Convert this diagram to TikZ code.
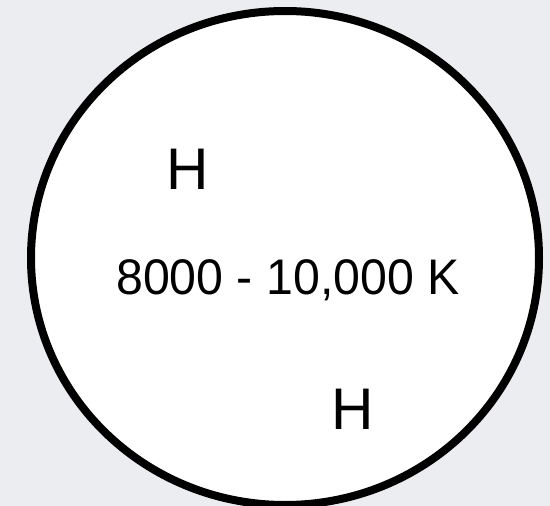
\documentclass[tikz,border=0pt]{standalone}
\usepackage{fontspec}
\setmainfont{Liberation Sans}
\usetikzlibrary{shapes.geometric}

\definecolor{slidebg}{RGB}{236,237,240}

\begin{document}
\begin{tikzpicture}[x=1pt, y=-1pt,
    region/.style={ellipse, draw, line width=8pt, fill=white, inner sep=0pt,
                   minimum width=508pt, minimum height=494pt},
    atom/.style={font=\fontsize{58.7}{58.7}\selectfont, inner sep=0pt, anchor=base},
    temp/.style={font=\fontsize{50}{50}\selectfont, xscale=0.965, inner sep=0pt, anchor=base}]
    \fill[slidebg] (0,0) rectangle (550,506);
    \useasboundingbox (0,0) rectangle (550,506);
    \node[region] (hii) at (285,258) {};
    \node[atom] (h1) at (188,189) {H};
    \node[temp] (t) at (288,294) {8000 - 10,000 K};
    \node[atom] (h2) at (353,429) {H};
\end{tikzpicture}
\end{document}
